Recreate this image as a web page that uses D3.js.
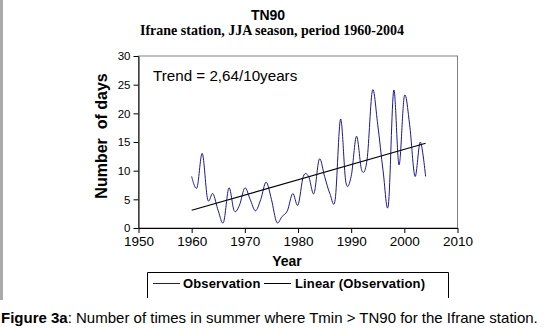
<!DOCTYPE html>
<html>
<head>
<meta charset="utf-8">
<script src="https://cdn.jsdelivr.net/npm/d3@7"></script>
<style>
  body { margin: 0; background: #fff; }
  svg { display: block; font-family: "Liberation Sans", Arial, sans-serif; }
</style>
</head>
<body>
<div id="container"></div>
<script>
// yearly counts (JJA, Tmin > TN90)
const years = [1960, 1961, 1962, 1963, 1964, 1965, 1966, 1967, 1968, 1969,
               1970, 1971, 1972, 1973, 1974, 1975, 1976, 1977, 1978, 1979,
               1980, 1981, 1982, 1983, 1984, 1985, 1986, 1987, 1988, 1989,
               1990, 1991, 1992, 1993, 1994, 1995, 1996, 1997, 1998, 1999,
               2000, 2001, 2002, 2003, 2004];
const days = [9, 7, 13, 5, 6, 3, 1, 7, 3, 4,
              7, 5, 3, 5, 8, 5, 1, 2, 3, 6,
              4, 9, 9, 6, 12, 9, 6, 5, 19, 8,
              9, 16, 10, 12, 24, 18, 10, 4, 24, 11,
              23, 18, 9, 15, 9];
const xTicks = [1950, 1960, 1970, 1980, 1990, 2000, 2010];
const yTicks = [0, 5, 10, 15, 20, 25, 30];
const seriesNames = ["Observation", "Linear (Observation)"];

const width = 550;
const height = 331;

const x = d3.scaleLinear([1950, 2010], [138.5, 457.5]);
const y = d3.scaleLinear([0, 30], [228, 56]);

const svg = d3.create("svg")
    .attr("width", width)
    .attr("height", height)
    .attr("viewBox", [0, 0, width, height]);

// grey strip on the left edge of the page scan
svg.append("rect")
    .attr("x", 0).attr("y", 0)
    .attr("width", 3).attr("height", 300)
    .attr("fill", "#aaa");

// titles
svg.append("text")
    .attr("x", 268).attr("y", 20)
    .attr("text-anchor", "middle")
    .attr("font-size", 14).attr("font-weight", "bold")
    .text("TN90");

svg.append("text")
    .attr("x", 272).attr("y", 35)
    .attr("text-anchor", "middle")
    .attr("font-family", "'Liberation Serif', 'Times New Roman', serif")
    .attr("font-size", 14).attr("font-weight", "bold")
    .text("Ifrane station, JJA season, period 1960-2004");

// plot frame
svg.append("rect")
    .attr("x", x(1950)).attr("y", y(30))
    .attr("width", x(2010) - x(1950)).attr("height", y(0) - y(30))
    .attr("fill", "none").attr("stroke", "#808080");

// axes
const yAxis = svg.append("g")
    .attr("transform", `translate(${x(1950)},0)`)
    .call(d3.axisLeft(y).tickValues(yTicks).tickSize(5).tickSizeOuter(0).tickPadding(3));
yAxis.selectAll("text").attr("font-size", 11.5).attr("fill", "#000").attr("font-family", "Liberation Sans, Arial");
yAxis.selectAll("line, path").attr("stroke", "#000");

const xAxis = svg.append("g")
    .attr("transform", `translate(0,${y(0)})`)
    .call(d3.axisBottom(x).tickValues(xTicks).tickFormat(d3.format("d")).tickSize(5).tickSizeOuter(0).tickPadding(3));
xAxis.selectAll("text").attr("font-size", 13.5).attr("fill", "#000").attr("font-family", "Liberation Sans, Arial");
xAxis.selectAll("line, path").attr("stroke", "#000");

// axis titles
svg.append("text")
    .attr("transform", "translate(107,136) rotate(-90)")
    .attr("text-anchor", "middle")
    .attr("font-size", 16).attr("font-weight", "bold")
    .style("white-space", "pre")
    .text("Number  of days");

svg.append("text")
    .attr("x", 287).attr("y", 266)
    .attr("text-anchor", "middle")
    .attr("font-size", 14).attr("font-weight", "bold")
    .text("Year");

// observation series, smoothed like the spreadsheet line
const pts = years.map((yr, i) => [yr, days[i]]);
const line = d3.line()
    .x(d => x(d[0]))
    .y(d => y(d[1]))
    .curve(d3.curveCardinal.tension(0));

svg.append("path")
    .datum(pts)
    .attr("fill", "none")
    .attr("stroke", "#1a1a8c")
    .attr("stroke-width", 1)
    .attr("d", line);

// least squares trend
const mx = d3.mean(years), my = d3.mean(days);
const slope = d3.sum(years, (yr, i) => (yr - mx) * (days[i] - my)) /
              d3.sum(years, yr => (yr - mx) ** 2);
const icpt = my - slope * mx;
const x0 = years[0], x1 = years[years.length - 1];
svg.append("line")
    .attr("x1", x(x0)).attr("y1", y(icpt + slope * x0))
    .attr("x2", x(x1)).attr("y2", y(icpt + slope * x1))
    .attr("stroke", "#000").attr("stroke-width", 1.2);

svg.append("text")
    .attr("x", 153).attr("y", 80.5)
    .attr("font-size", 15.2)
    .text("Trend = 2,64/10years");

// legend (bottom edge is cut off in the source)
svg.append("path")
    .attr("d", "M147.5,298V272.5H448.5V298")
    .attr("fill", "none").attr("stroke", "#000");

const legend = [
    {name: seriesNames[0], color: "#1a1a8c", x0: 153, x1: 180, tx: 183},
    {name: seriesNames[1], color: "#000", x0: 264, x1: 291, tx: 295}
];
const lg = svg.append("g").selectAll("g").data(legend).join("g");
lg.append("line")
    .attr("x1", d => d.x0).attr("x2", d => d.x1)
    .attr("y1", 283.5).attr("y2", 283.5)
    .attr("stroke", d => d.color);
lg.append("text")
    .attr("x", d => d.tx).attr("y", 288)
    .attr("font-size", 13).attr("font-weight", "bold")
    .attr("letter-spacing", 0.15)
    .text(d => d.name);

// caption
const cap = svg.append("text")
    .attr("x", 1).attr("y", 323)
    .attr("font-size", 15);
cap.append("tspan").attr("font-weight", "bold").text("Figure 3a");
cap.append("tspan").text(": Number of times in summer where Tmin > TN90 for the Ifrane station.");

d3.select("#container").append(() => svg.node());
</script>
</body>
</html>
